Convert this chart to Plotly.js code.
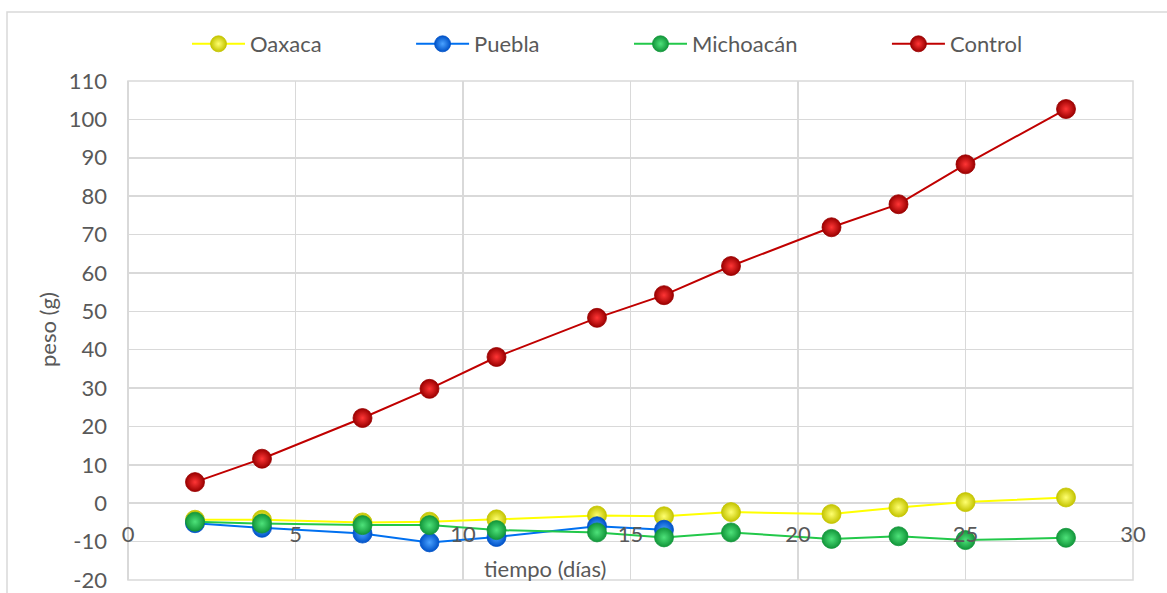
<!DOCTYPE html>
<html>
<head>
<meta charset="utf-8">
<script src="https://cdn.plot.ly/plotly-3.0.1.min.js"></script>
<style>html,body{margin:0;padding:0;background:#fff;}#chart{width:1167px;height:593px;}</style>
</head>
<body>
<div id="chart"></div>
<script>
const seriesNames = ["Oaxaca", "Puebla", "Michoacán", "Control"];
const days = [2, 4, 7, 9, 11, 14, 16, 18, 21, 23, 25, 28];
const pueblaDays = [2, 4, 7, 9, 11, 14, 16];
const oaxaca = [-4.3, -4.3, -5.0, -4.8, -4.2, -3.2, -3.4, -2.3, -2.8, -1.1, 0.3, 1.5];
const puebla = [-5.2, -6.4, -7.9, -10.2, -8.8, -6.0, -6.9];
const michoacan = [-4.8, -5.3, -5.7, -5.7, -7.0, -7.6, -8.9, -7.6, -9.3, -8.6, -9.6, -9.0];
const control = [5.5, 11.6, 22.2, 29.8, 38.1, 48.3, 54.2, 61.8, 71.9, 77.9, 88.3, 102.7];
const yTickVals = [-20, -10, 0, 10, 20, 30, 40, 50, 60, 70, 80, 90, 100, 110];
const yTickText = ["-20", "-10", "0", "10", "20", "30", "40", "50", "60", "70", "80", "90", "100", "110"];
const xTickVals = [0, 5, 10, 15, 20, 25, 30];
const xTickText = ["0", "5", "10", "15", "20", "25", "30"];

const FONT = "Lato, 'Open Sans', sans-serif";
const TXT = "#595959";
const GRID = "#d9d9d9";
const PAD = "\u00a0".repeat(15);

function mk(name, pad, x, y, line, edge, center) {
  return {
    type: "scatter", mode: "lines+markers", name: name + pad, x: x, y: y,
    line: {color: line, width: 2},
    marker: {size: 19, color: edge, gradient: {type: "radial", color: center}, line: {color: edge, width: 0.8}},
    hoverinfo: "x+y"
  };
}

const data = [
  mk(seriesNames[0], PAD, days, oaxaca, "#ffff00", "#c4c400", "#ffff70"),
  mk(seriesNames[1], PAD, pueblaDays, puebla, "#0070f0", "#0052c8", "#4aa2ff"),
  mk(seriesNames[2], PAD, days, michoacan, "#22c84a", "#12963a", "#4ee27a"),
  mk(seriesNames[3], "", days, control, "#c00000", "#9a0000", "#ff3636")
];

const layout = {
  width: 1167, height: 593,
  margin: {l: 128, r: 34, t: 81, b: 13},
  paper_bgcolor: "#ffffff", plot_bgcolor: "#ffffff",
  font: {family: FONT, size: 22, color: TXT},
  showlegend: true,
  legend: {orientation: "h", x: (187 - 128) / 1005, xanchor: "left", y: (580 - 44) / 499, yanchor: "middle",
           itemwidth: 53, font: {family: FONT, size: 22, color: TXT}, bgcolor: "rgba(0,0,0,0)", traceorder: "normal"},
  xaxis: {
    range: [0, 30], tickmode: "array", tickvals: xTickVals, ticktext: xTickText,
    showgrid: true, gridcolor: GRID, gridwidth: 1.5, zeroline: true, zerolinecolor: GRID, zerolinewidth: 1.5,
    showline: false, ticks: "", anchor: "free", position: 20 / 130, ticklabelstandoff: 16,
    tickfont: {family: FONT, size: 22, color: TXT}, fixedrange: true
  },
  yaxis: {
    range: [-20, 110], tickmode: "array", tickvals: yTickVals, ticktext: yTickText,
    showgrid: true, gridcolor: GRID, gridwidth: 1.5, zeroline: true, zerolinecolor: GRID, zerolinewidth: 1.5,
    showline: false, ticks: "", ticklabelstandoff: 20,
    tickfont: {family: FONT, size: 22, color: TXT}, fixedrange: true
  },
  annotations: [
    {text: "tiempo (días)", xref: "paper", yref: "paper", x: (545 - 128) / 1005, y: (580 - 568) / 499,
     xanchor: "center", yanchor: "middle", showarrow: false, font: {family: FONT, size: 22, color: TXT}},
    {text: "peso (g)", xref: "paper", yref: "paper", x: (47 - 128) / 1005, y: (580 - 330) / 499,
     xanchor: "center", yanchor: "middle", textangle: -90, showarrow: false, font: {family: FONT, size: 22, color: TXT}}
  ],
  shapes: [
    {type: "rect", xref: "paper", yref: "paper", x0: (7 - 128) / 1005, x1: 1.2, y0: -0.2, y1: (580 - 12) / 499,
     line: {color: GRID, width: 1.5}, fillcolor: "rgba(0,0,0,0)", layer: "below"},
    {type: "rect", xref: "paper", yref: "paper", x0: 0, x1: 1, y0: 0, y1: 1,
     line: {color: GRID, width: 1.5}, fillcolor: "rgba(0,0,0,0)", layer: "below"}
  ]
};

Plotly.newPlot("chart", data, layout, {displayModeBar: false, staticPlot: true});
</script>
</body>
</html>
